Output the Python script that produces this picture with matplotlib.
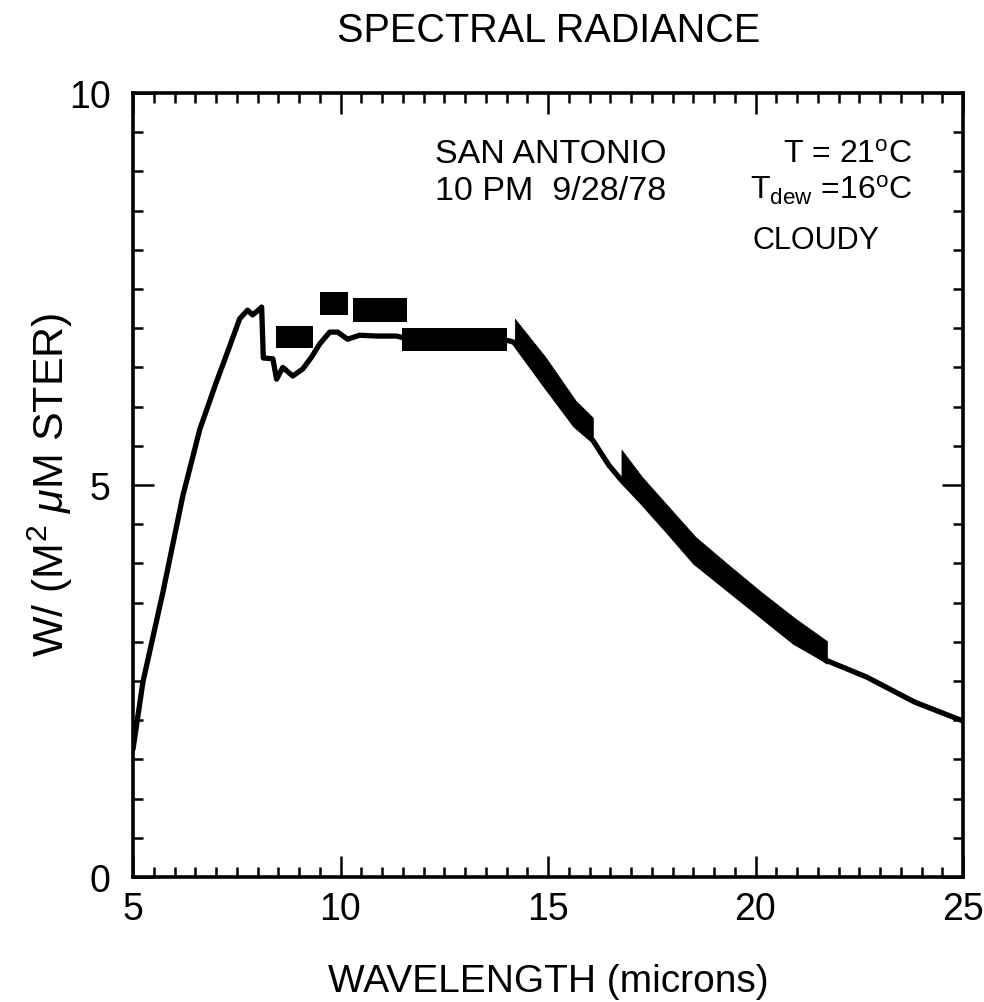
import matplotlib
matplotlib.use("Agg")
import matplotlib.pyplot as plt
from matplotlib.ticker import MultipleLocator

plt.rcParams['font.family'] = ['Liberation Sans', 'DejaVu Sans']
plt.rcParams['mathtext.fontset'] = 'custom'
plt.rcParams['mathtext.rm'] = 'Liberation Sans'
plt.rcParams['mathtext.it'] = 'Liberation Sans:italic'
plt.rcParams['mathtext.bf'] = 'Liberation Sans:bold'

# ---- data ----
wavelength = [5.0, 5.24, 5.72, 6.2, 6.61, 7.0, 7.33, 7.57, 7.76, 7.88, 8.0, 8.1,
              8.14, 8.37, 8.46, 8.61, 8.85, 9.09, 9.3, 9.5, 9.74, 9.93, 10.17,
              10.46, 10.87, 11.35, 11.5, 12.5, 13.5, 14.06, 14.18, 14.94, 15.66,
              16.08, 16.47, 16.77, 17.27, 17.91, 18.55, 19.35, 20.15, 20.95,
              21.72, 22.68, 23.84, 25.0]
radiance = [1.63, 2.49, 3.63, 4.86, 5.71, 6.3, 6.77, 7.12, 7.23, 7.17, 7.22, 7.27,
            6.62, 6.61, 6.35, 6.5, 6.39, 6.48, 6.63, 6.8, 6.95, 6.95, 6.86,
            6.91, 6.9, 6.9, 6.88, 6.86, 6.85, 6.84, 6.82, 6.27, 5.76,
            5.57, 5.25, 5.06, 4.78, 4.40, 4.01, 3.67, 3.33, 2.99,
            2.76, 2.55, 2.23, 1.99]

# measurement boxes: (x_lo, x_hi, y_lo, y_hi)
box_x_lo = [8.45, 9.51, 10.31, 11.48]
box_x_hi = [9.33, 10.18, 11.60, 14.00]
box_y_lo = [6.75, 7.17, 7.08, 6.71]
box_y_hi = [7.03, 7.46, 7.38, 7.00]

# measurement bands
band1_x = [14.20, 14.94, 15.66, 16.08]
band1_lo = [6.80, 6.25, 5.74, 5.55]
band1_hi = [7.12, 6.63, 6.08, 5.86]

band2_x = [16.77, 17.27, 17.91, 18.55, 19.35, 20.15, 20.95, 21.72]
band2_lo = [5.04, 4.76, 4.38, 4.00, 3.66, 3.32, 2.98, 2.72]
band2_hi = [5.45, 5.10, 4.72, 4.34, 3.98, 3.63, 3.30, 3.01]

xticks = [5, 10, 15, 20, 25]
yticks = [0, 5, 10]

W, H = 984, 1003
fig = plt.figure(figsize=(W / 100, H / 100), dpi=100)
ax = fig.add_axes([133 / W, 1 - 878 / H, (963 - 133) / W, (878 - 94) / H])

ax.plot(wavelength, radiance, color='black', lw=3.8, solid_joinstyle='round',
        solid_capstyle='round', zorder=3)
for xl, xh, yl, yh in zip(box_x_lo, box_x_hi, box_y_lo, box_y_hi):
    ax.fill([xl, xh, xh, xl], [yl, yl, yh, yh], color='black', lw=0, zorder=4)
ax.fill_between(band1_x, band1_lo, band1_hi, color='black', lw=0.5, zorder=4)
ax.fill_between(band2_x, band2_lo, band2_hi, color='black', lw=0.5, zorder=4)

ax.set_xlim(5, 25)
ax.set_ylim(0, 10)
ax.set_xticks(xticks)
ax.set_yticks(yticks)
ax.set_xticklabels([str(v) for v in xticks])
ax.set_yticklabels([str(v) for v in yticks])
ax.xaxis.set_minor_locator(MultipleLocator(0.5))
ax.yaxis.set_minor_locator(MultipleLocator(0.5))
ax.tick_params(which='both', direction='in', top=True, right=True, width=1.8,
               color='black')
ax.tick_params(which='major', length=15, labelsize=27)
ax.tick_params(which='minor', length=7.5)
ax.tick_params(axis='x', which='major', pad=10)
ax.tick_params(axis='y', which='major', pad=16)
for s in ax.spines.values():
    s.set_linewidth(2.6)

def fx(px):
    return px / W

def fy(py):
    return 1 - py / H

fig.text(fx(549), fy(42), 'SPECTRAL RADIANCE', ha='center', va='baseline', fontsize=28.5)
fig.text(fx(548), fy(992), 'WAVELENGTH (microns)', ha='center', va='baseline', fontsize=28)
fig.text(fx(50), fy(485), r'W/ (M$^2$ $\mu$M STER)', ha='center', va='center',
         rotation=90, fontsize=31)

fig.text(fx(435), fy(163), 'SAN ANTONIO', ha='left', va='baseline', fontsize=24.5)
fig.text(fx(435), fy(200), '10 PM  9/28/78', ha='left', va='baseline', fontsize=24.5)
fig.text(fx(912), fy(163), r'T = 21$^{\rm o}$C', ha='right', va='baseline', fontsize=23)
fig.text(fx(912), fy(200), r'T$_{\rm dew}$ =16$^{\rm o}$C', ha='right', va='baseline', fontsize=23)
fig.text(fx(753), fy(249), 'CLOUDY', ha='left', va='baseline', fontsize=22)

fig.savefig('out.png', dpi=100, facecolor='white')
